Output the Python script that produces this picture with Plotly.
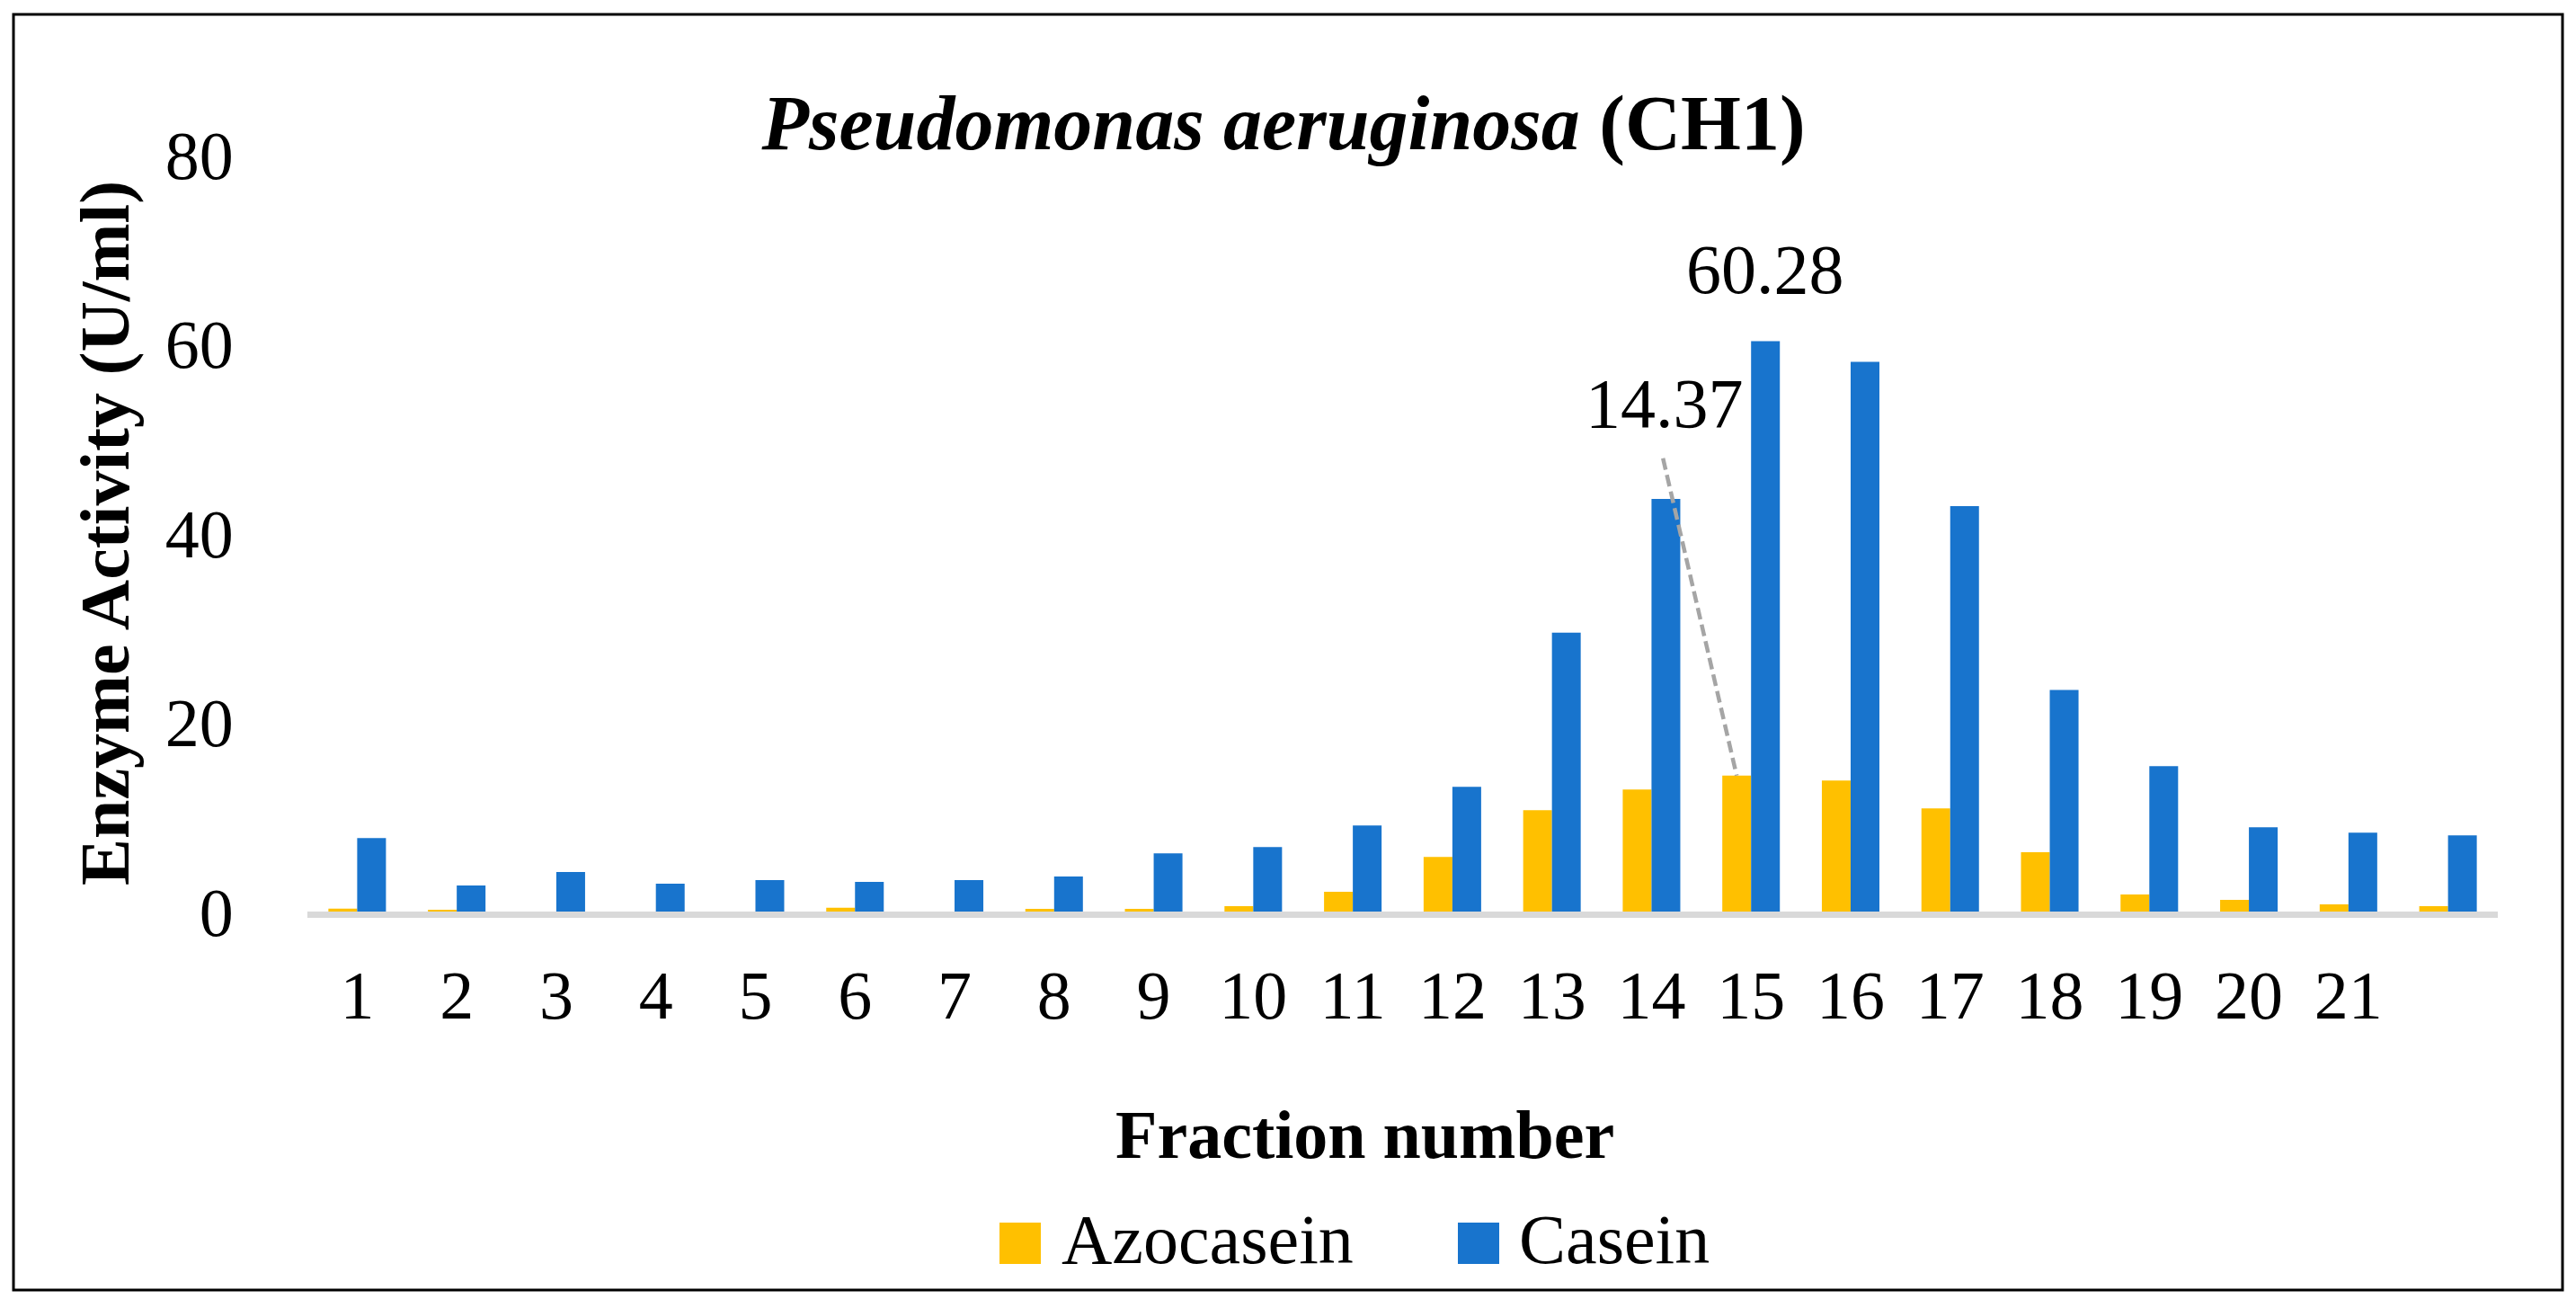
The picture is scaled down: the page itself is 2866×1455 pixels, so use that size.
import plotly.graph_objects as go

# ---- data ----
fractions = list(range(1, 23))
tick_labels = [str(i) for i in range(1, 22)] + [""]
azocasein = [0.3, 0.2, 0.0, 0.0, 0.0, 0.4, 0.0, 0.28, 0.28, 0.57, 2.09, 5.78,
             10.71, 12.89, 14.37, 13.84, 10.9, 6.26, 1.8, 1.23, 0.76, 0.57]
casein = [7.77, 2.75, 4.17, 2.94, 3.32, 3.13, 3.32, 3.70, 6.16, 6.82, 9.1, 13.18,
          29.48, 43.6, 60.28, 58.1, 42.84, 23.41, 15.36, 8.91, 8.34, 8.06]
series_names = ["Azocasein", "Casein"]
colors = ["#FFC000", "#1874CD"]
y_ticks = [0, 20, 40, 60, 80]

# ---- layout geometry (pixels, screen coordinates; page body has an 8px offset) ----
W, H = 2866, 1455
OFF = 8
PLOT_L, PLOT_R, PLOT_T, PLOT_B = 342, 2779, 172, 1014   # screen pixels of plot area
L = PLOT_L - OFF
T = PLOT_T - OFF
R = W - (PLOT_R - OFF)
B = H - (PLOT_B - OFF)
PW, PH = PLOT_R - PLOT_L, PLOT_B - PLOT_T


def px_x(p):
    return (p - PLOT_L) / PW


def px_y(p):
    return (PLOT_B - p) / PH


FONT = "Book Antiqua, Palatino Linotype, Palatino, Liberation Serif, serif"

fig = go.Figure()
for name, vals, col in zip(series_names, [azocasein, casein], colors):
    fig.add_trace(go.Bar(x=fractions, y=vals, name=name, marker_color=col,
                         marker_line_width=0, showlegend=False))

peak = casein.index(max(casein))

annotations = [
    # data labels
    dict(x=fractions[peak], y=casein[peak], xref="x", yref="y",
         text=f"{casein[peak]:.2f}", showarrow=False, xshift=16, yshift=80,
         yanchor="middle", font=dict(size=78, color="black", family=FONT)),
    dict(x=fractions[peak], y=azocasein[peak], xref="x", yref="y",
         text=f"{azocasein[peak]:.2f}", showarrow=False, xshift=-96, yshift=414,
         yanchor="middle", font=dict(size=78, color="black", family=FONT)),
    # axis titles
    dict(x=px_x(116), y=0.5, xref="paper", yref="paper", text="<b>Enzyme Activity (U/ml)</b>",
         textangle=-90, showarrow=False, xanchor="center", yanchor="middle",
         font=dict(size=78, color="black", family=FONT)),
    dict(x=px_x(1518), y=px_y(1262), xref="paper", yref="paper", text="<b>Fraction number</b>",
         showarrow=False, xanchor="center", yanchor="middle",
         font=dict(size=76, color="black", family=FONT)),
    # legend text
    dict(x=px_x(1179), y=px_y(1378), xref="paper", yref="paper", text=series_names[0],
         showarrow=False, xanchor="left", yanchor="middle",
         font=dict(size=78, color="black", family=FONT)),
    dict(x=px_x(1688), y=px_y(1378), xref="paper", yref="paper", text=series_names[1],
         showarrow=False, xanchor="left", yanchor="middle",
         font=dict(size=78, color="black", family=FONT)),
]

shapes = [
    # leader line for azocasein label
    dict(type="line", xref="x", yref="y", xsizemode="pixel", ysizemode="pixel",
         xanchor=fractions[peak], yanchor=azocasein[peak],
         x0=-98, y0=353, x1=-16, y1=0,
         line=dict(color="#A5A5A5", width=4.5, dash="13px,6px")),
    # legend swatches
    dict(type="rect", xref="paper", yref="paper", x0=px_x(1112), x1=px_x(1158),
         y0=px_y(1406), y1=px_y(1360), fillcolor=colors[0], line_width=0),
    dict(type="rect", xref="paper", yref="paper", x0=px_x(1622), x1=px_x(1668),
         y0=px_y(1406), y1=px_y(1360), fillcolor=colors[1], line_width=0),
    # outer frame
    dict(type="rect", xref="paper", yref="paper", x0=px_x(15), x1=px_x(2851),
         y0=px_y(1435), y1=px_y(16), line=dict(color="black", width=3),
         fillcolor="rgba(0,0,0,0)"),
]

fig.update_layout(
    width=W, height=H,
    margin=dict(l=L, r=R, t=T, b=B, autoexpand=False),
    paper_bgcolor="white", plot_bgcolor="white",
    barmode="group", bargap=0.422, bargroupgap=0,
    font=dict(family=FONT, color="black", size=76),
    title=dict(text="<b><i>Pseudomonas aeruginosa</i> (CH1)</b>",
               x=(1428 - OFF) / W, xref="container", xanchor="center",
               y=1 - 128 / H, yref="container", yanchor="middle",
               font=dict(size=86, family=FONT, color="black")),
    xaxis=dict(range=[0.5, 22.5], tickmode="array", tickvals=fractions, ticktext=tick_labels,
               showgrid=False, zeroline=False, showline=True, linecolor="#D9D9D9", linewidth=7,
               ticks="outside", ticklen=21, tickcolor="rgba(0,0,0,0)",
               tickfont=dict(size=76, family=FONT, color="black")),
    yaxis=dict(range=[0, 80], tickmode="array", tickvals=y_ticks,
               showgrid=False, zeroline=False, showline=False,
               ticks="outside", ticklen=66, tickcolor="rgba(0,0,0,0)",
               tickfont=dict(size=76, family=FONT, color="black")),
    annotations=annotations, shapes=shapes,
)

fig.write_html("out.html")
